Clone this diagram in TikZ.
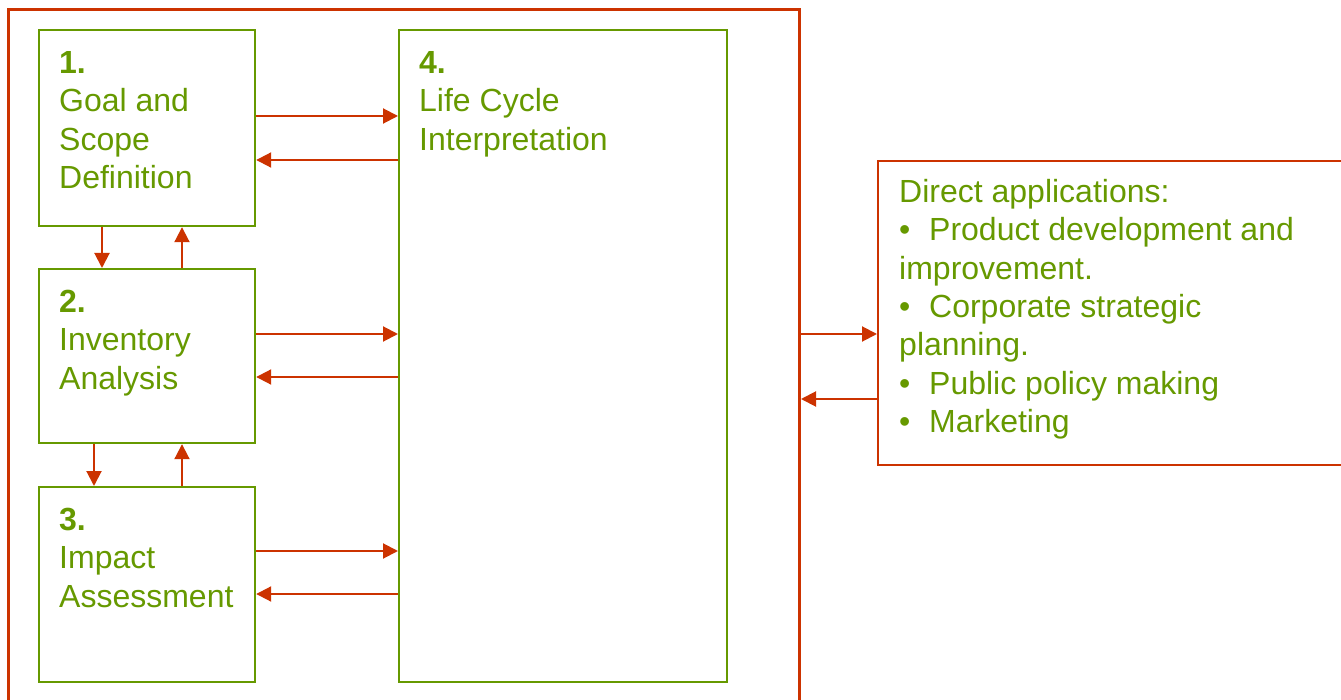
\documentclass[tikz,border=0pt]{standalone}
\usepackage{fontspec}
\setmainfont{Liberation Sans}
\usetikzlibrary{arrows.meta}
\definecolor{lcagreen}{RGB}{102,153,0}
\definecolor{lcared}{RGB}{204,51,0}
\begin{document}
\begin{tikzpicture}[x=1pt,y=-1pt]
	\tikzstyle{stage} = [draw=lcagreen,line width=2.2pt,inner sep=0pt,anchor=north west]
	\tikzstyle{stagetext} = [text=lcagreen,font=\fontsize{32}{38.4}\selectfont,align=left,anchor=north west,inner sep=0pt]
	\tikzstyle{flow} = [draw=lcared,line width=2pt,-{Triangle[length=15pt,width=15pt]}]
	\useasboundingbox (0,0) rectangle (1341,700);
	\clip (0,0) rectangle (1341,700);
	% outer frame
	\node[draw=lcared,line width=3pt,anchor=north west,inner sep=0pt,minimum width=791pt,minimum height=720pt] (frame) at (7,8) {};
	% stages
	\node[stage,minimum width=216pt,minimum height=196pt] (goal) at (38,29) {};
	\node[stage,minimum width=216pt,minimum height=174pt] (inv) at (38,268) {};
	\node[stage,minimum width=216pt,minimum height=195pt] (impact) at (38,486) {};
	\node[stage,minimum width=328pt,minimum height=652pt] (interp) at (398,29) {};
	\node[stagetext] (goaltext) at ([xshift=21pt,yshift=-22pt]goal.north west) {\textbf{1.}\\Goal and\\Scope\\Definition};
	\node[stagetext] (invtext) at ([xshift=21pt,yshift=-22pt]inv.north west) {\textbf{2.}\\Inventory\\Analysis};
	\node[stagetext] (impacttext) at ([xshift=21pt,yshift=-22pt]impact.north west) {\textbf{3.}\\Impact\\Assessment};
	\node[stagetext] (interptext) at ([xshift=21pt,yshift=-22pt]interp.north west) {\textbf{4.}\\Life Cycle\\Interpretation};
	% applications
	\node[draw=lcared,line width=2.2pt,anchor=north west,inner sep=0pt,minimum width=480pt,minimum height=304pt] (apps) at (877,160) {};
	\node[stagetext] (appstext) at ([xshift=22pt,yshift=-19pt]apps.north west) {Direct applications:\\
		\makebox[30pt][l]{•}Product development and\\improvement.\\
		\makebox[30pt][l]{•}Corporate strategic\\planning.\\
		\makebox[30pt][l]{•}Public policy making\\
		\makebox[30pt][l]{•}Marketing};
	% stages <-> interpretation
	\foreach \s/\ya/\yb in {goal/116/160,inv/334/377,impact/551/594} {
		\draw[flow] (\s.east |- 0,\ya) -- (interp.west |- 0,\ya);
		\draw[flow] (interp.west |- 0,\yb) -- (\s.east |- 0,\yb);
	}
	% stage -> next stage and back
	\foreach \a/\b/\xd in {goal/inv/102,inv/impact/94} {
		\draw[flow] (\a.south -| \xd,0) -- (\b.north -| \xd,0);
		\draw[flow] (\b.north -| 182,0) -- (\a.south -| 182,0);
	}
	% frame <-> applications
	\draw[flow] (frame.east |- 0,334) -- (apps.west |- 0,334);
	\draw[flow] (apps.west |- 0,399) -- (frame.east |- 0,399);
\end{tikzpicture}
\end{document}
